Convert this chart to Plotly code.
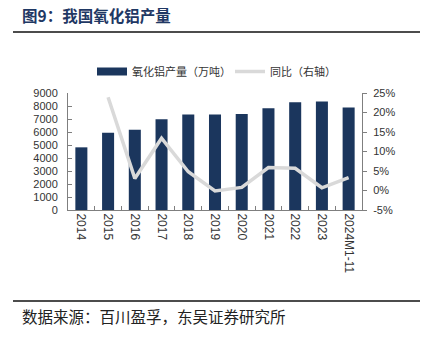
import plotly.graph_objects as go

categories = ["2014", "2015", "2016", "2017", "2018", "2019", "2020", "2021", "2022", "2023", "2024M1-11"]
output_wt = [4820, 5940, 6170, 6990, 7350, 7340, 7380, 7820, 8290, 8350, 7890]
yoy_pct = [None, 23.9, 3.1, 13.4, 4.8, -0.1, 0.8, 5.9, 5.7, 0.7, 3.3]
left_ticks = [0, 1000, 2000, 3000, 4000, 5000, 6000, 7000, 8000, 9000]
right_ticks = [-5, 0, 5, 10, 15, 20, 25]
right_labels = [f"{v}%" for v in right_ticks]

L, R, T, B = 68, 362, 93, 210
W, H = 422, 341
def px(x):
    return (x - L) / (R - L)
def py(y):
    return (B - y) / (B - T)

BAR_COLOR = "#1b365d"
LINE_COLOR = "#d9d9d9"
TICK_FONT = dict(family="Liberation Sans, Arial", size=11, color="#333333")

fig = go.Figure()
fig.add_trace(go.Bar(x=categories, y=output_wt, name="氧化铝产量（万吨）", showlegend=False,
                     marker=dict(color=BAR_COLOR, line=dict(width=0)), width=0.45))
# legend-only entry drawn as a thick swatch, like the reference
fig.add_trace(go.Scatter(x=[categories[0]], y=[None], name="氧化铝产量（万吨）", mode="lines",
                         line=dict(color=BAR_COLOR, width=8)))
fig.add_trace(go.Scatter(x=categories, y=yoy_pct, name="同比（右轴）", yaxis="y2",
                         mode="lines", line=dict(color=LINE_COLOR, width=3.5)))

fig.update_layout(
    width=W, height=H,
    margin=dict(l=L, r=W - R, t=T, b=H - B),
    paper_bgcolor="white", plot_bgcolor="white",
    font=dict(family="Noto Sans CJK SC", size=12, color="#333333"),
    xaxis=dict(type="category", showline=True, linecolor="#7f7f7f", linewidth=1,
               ticks="inside", tickson="boundaries", ticklen=4, tickcolor="#7f7f7f",
               tickangle=90, tickfont=dict(family="Liberation Sans, Arial", size=12, color="#333333"),
               showgrid=False),
    yaxis=dict(range=[0, 9000], tickvals=left_ticks, showline=True, linecolor="#7f7f7f",
               ticks="inside", ticklen=4, tickcolor="#7f7f7f", showgrid=False,
               zeroline=False, tickfont=TICK_FONT, ticklabelstandoff=7),
    yaxis2=dict(range=[-5, 25], tickvals=right_ticks, ticktext=right_labels, overlaying="y",
                side="right", showline=True, linecolor="#7f7f7f", ticks="outside",
                ticklen=4, tickcolor="#7f7f7f", showgrid=False, zeroline=False,
                tickfont=TICK_FONT, ticklabelstandoff=4),
    legend=dict(orientation="h", x=px(92), y=py(57), xanchor="left", yanchor="top",
                font=dict(family="Noto Sans CJK SC", size=11, color="#333333"),
                entrywidth=93, entrywidthmode="pixels",
                tracegroupgap=0, bgcolor="rgba(0,0,0,0)"),
    showlegend=True,
)

fig.add_annotation(text="<b>图9：我国氧化铝产量</b>", xref="paper", yref="paper",
                   x=px(20), y=py(15), xanchor="left", yanchor="middle", showarrow=False,
                   font=dict(family="Noto Sans CJK SC", size=15.5, color="#1f3864"))
fig.add_annotation(text="数据来源：百川盈孚，东吴证券研究所", xref="paper", yref="paper",
                   x=px(20), y=py(316), xanchor="left", yanchor="middle", showarrow=False,
                   font=dict(family="Noto Sans CJK SC", size=15.5, color="#222222"))
for yy in (32, 301):
    fig.add_shape(type="line", xref="paper", yref="paper", x0=px(13), x1=px(420),
                  y0=py(yy), y1=py(yy), line=dict(color="#111111", width=1.5))

fig.write_html("out.html")
